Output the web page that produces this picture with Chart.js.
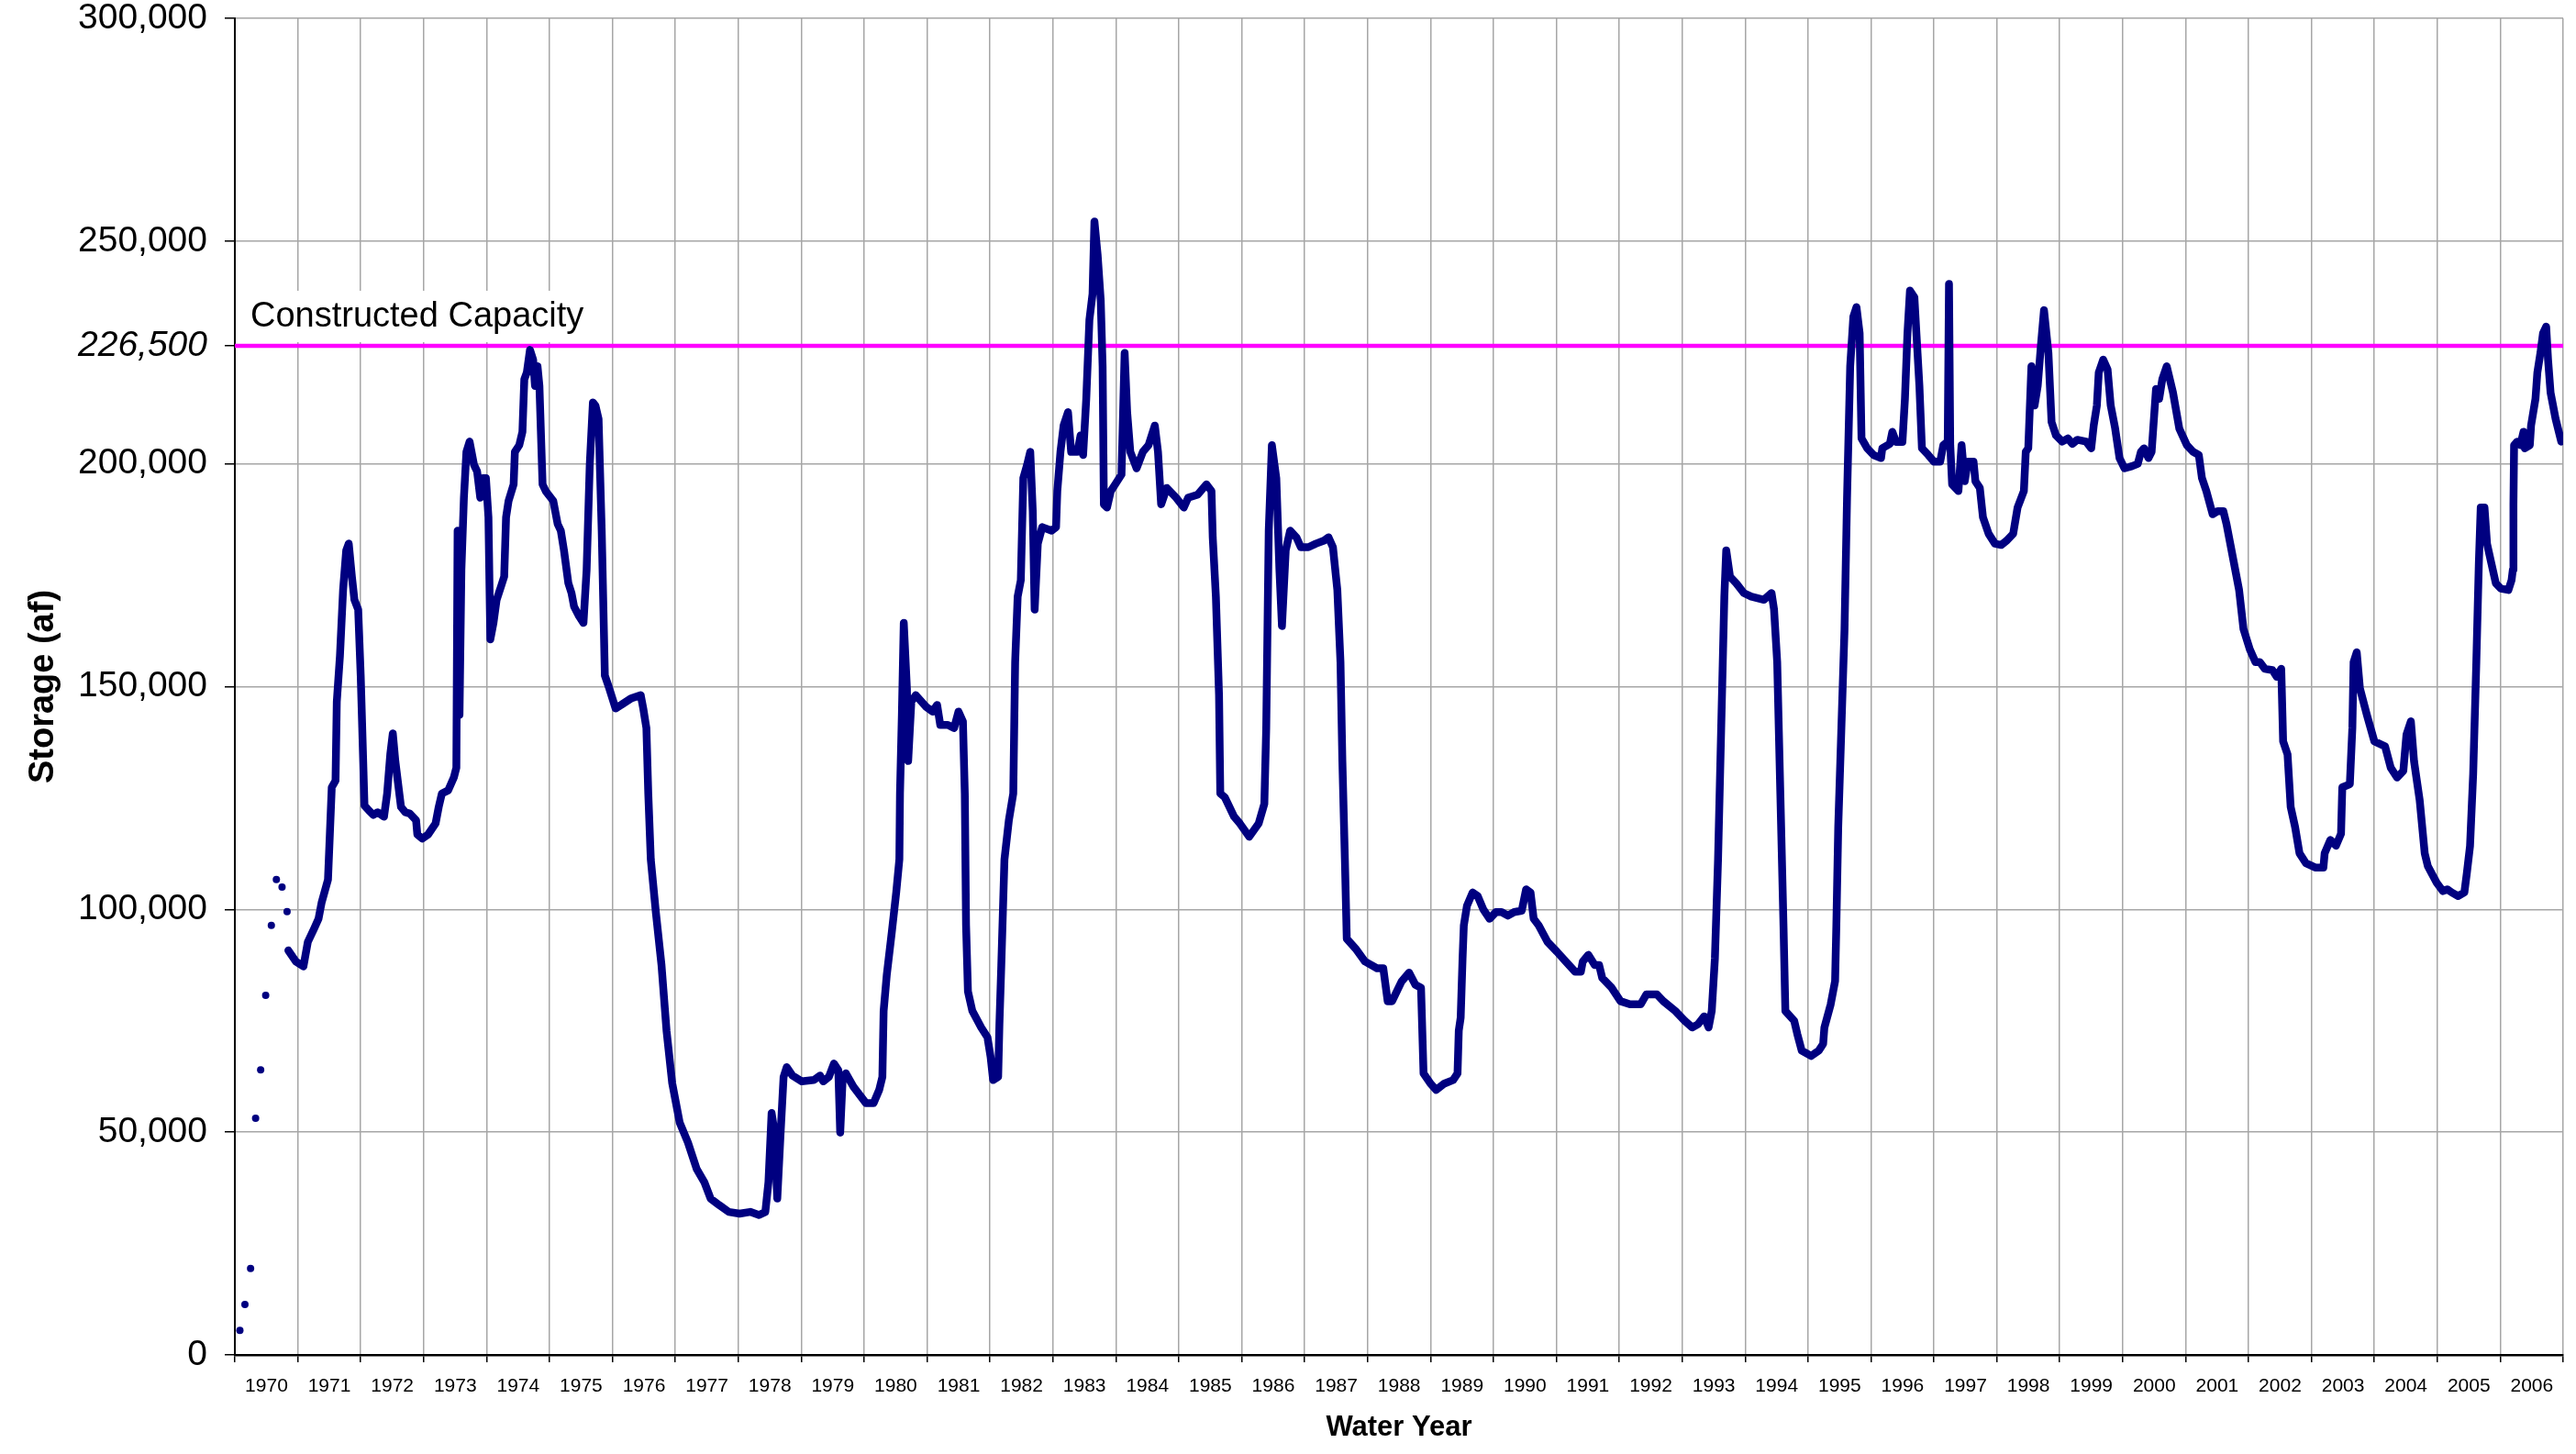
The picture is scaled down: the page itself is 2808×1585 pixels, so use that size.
<!DOCTYPE html>
<html>
<head>
<meta charset="utf-8">
<title>Reservoir Storage by Water Year</title>
<script src="https://cdn.jsdelivr.net/npm/chart.js@4.4.1/dist/chart.umd.min.js"></script>
<style>
  html, body { margin: 0; padding: 0; background: #fff; }
  #wrap { width: 2808px; height: 1585px; }
</style>
</head>
<body>
<div id="wrap"><canvas id="storageChart"></canvas></div>
<script>
// water years shown on the x axis (each label sits inside its year)
const waterYears = [1970, 1971, 1972, 1973, 1974, 1975, 1976, 1977, 1978, 1979,
                    1980, 1981, 1982, 1983, 1984, 1985, 1986, 1987, 1988, 1989,
                    1990, 1991, 1992, 1993, 1994, 1995, 1996, 1997, 1998, 1999,
                    2000, 2001, 2002, 2003, 2004, 2005, 2006];

const yTicks = [0, 50000, 100000, 150000, 200000, 226500, 250000, 300000];
const capacity = 226500;
const capacityLabel = 'Constructed Capacity';

// first fill, monthly readings (drawn as dots only)
const firstFillDots = [
  [1970.08, 5500], [1970.16, 11300], [1970.25, 19400], [1970.33, 53100], [1970.41, 64000],
  [1970.49, 80700], [1970.58, 96400], [1970.66, 106700], [1970.75, 105000], [1970.83, 99500]
];

// storage (af), [water year, storage]
const storage1970s = [
  [1970.85, 90800], [1970.97, 88300], [1971.09, 87200], [1971.16, 92700], [1971.26, 95700],
  [1971.33, 97900], [1971.38, 101600], [1971.48, 106700], [1971.51, 117000], [1971.54, 127400],
  [1971.60, 128900], [1971.62, 146600], [1971.67, 156900], [1971.72, 171700], [1971.77, 180600],
  [1971.81, 182100], [1971.86, 174700], [1971.90, 169500], [1971.96, 167300], [1972.00, 152500],
  [1972.06, 123300], [1972.13, 122200], [1972.20, 121200], [1972.27, 121800], [1972.37, 120800],
  [1972.42, 126000], [1972.47, 134800], [1972.51, 139500], [1972.55, 133300], [1972.64, 123000],
  [1972.71, 121800], [1972.78, 121500], [1972.88, 120000], [1972.90, 116800], [1972.98, 115900],
  [1973.07, 116800], [1973.19, 119300], [1973.24, 123000], [1973.29, 126000], [1973.39, 126700],
  [1973.48, 129600], [1973.52, 131800], [1973.54, 185000], [1973.57, 143700], [1973.60, 176200],
  [1973.64, 192400], [1973.68, 202700], [1973.73, 205000], [1973.80, 199800], [1973.85, 198300],
  [1973.90, 192400], [1973.94, 196800], [1973.99, 196800], [1974.03, 188000], [1974.06, 160600],
  [1974.11, 164300], [1974.16, 169500], [1974.23, 172500], [1974.28, 174700], [1974.31, 188000],
  [1974.35, 191700], [1974.43, 195400], [1974.45, 202700], [1974.52, 204200], [1974.57, 207200],
  [1974.60, 219000], [1974.64, 220500], [1974.69, 225600], [1974.74, 223400], [1974.77, 217500],
  [1974.81, 221900], [1974.84, 217500], [1974.89, 195400], [1974.94, 193900], [1975.06, 191700],
  [1975.13, 186500], [1975.18, 185000], [1975.23, 180600], [1975.30, 173200], [1975.35, 171000],
  [1975.39, 168000], [1975.47, 165800], [1975.54, 164300], [1975.59, 176200], [1975.64, 199800],
  [1975.69, 213800], [1975.73, 213100], [1975.78, 210100], [1975.83, 185000], [1975.88, 152500],
  [1975.95, 149600], [1976.05, 145100], [1976.14, 145900], [1976.29, 147300], [1976.45, 148100],
  [1976.49, 145100], [1976.54, 140700], [1976.57, 126000], [1976.61, 111200], [1976.69, 99400],
  [1976.78, 87500], [1976.86, 72800], [1976.95, 61000], [1977.07, 52100], [1977.20, 47700],
  [1977.34, 41700], [1977.46, 38800], [1977.56, 35100], [1977.70, 33600], [1977.85, 32100],
  [1978.02, 31700], [1978.19, 32100], [1978.33, 31400], [1978.43, 32100], [1978.48, 38800],
  [1978.53, 54300], [1978.57, 50600], [1978.62, 35100], [1978.67, 49100], [1978.72, 62400],
  [1978.77, 64600], [1978.86, 62700], [1979.01, 61400], [1979.20, 61700], [1979.30, 62700],
  [1979.35, 61400], [1979.44, 62400], [1979.52, 65400], [1979.59, 63900], [1979.62, 49900],
  [1979.66, 62400], [1979.71, 63200], [1979.83, 60200]
];

const storage1980s = [
  [1980.03, 56500], [1980.15, 56500], [1980.24, 59500], [1980.29, 62400], [1980.31, 77200],
  [1980.36, 85300], [1980.44, 94900], [1980.51, 103800], [1980.56, 111200], [1980.57, 126000],
  [1980.60, 143700], [1980.63, 164300], [1980.68, 149600], [1980.70, 133300], [1980.75, 146600],
  [1980.82, 148100], [1980.99, 145400], [1981.09, 144400], [1981.16, 145900], [1981.21, 141400],
  [1981.33, 141400], [1981.43, 140700], [1981.50, 144400], [1981.57, 142200], [1981.60, 126000],
  [1981.62, 96400], [1981.65, 81600], [1981.72, 77200], [1981.86, 73500], [1981.96, 71300],
  [1982.01, 66900], [1982.05, 61700], [1982.13, 62400], [1982.15, 74200], [1982.18, 87500],
  [1982.23, 111200], [1982.30, 120000], [1982.37, 126000], [1982.40, 155500], [1982.44, 170200],
  [1982.49, 173900], [1982.53, 196800], [1982.59, 199800], [1982.64, 202700], [1982.68, 189400],
  [1982.71, 167300], [1982.76, 182100], [1982.83, 185800], [1982.98, 185000], [1983.05, 185800],
  [1983.07, 193900], [1983.12, 202700], [1983.17, 208600], [1983.24, 211600], [1983.29, 202700],
  [1983.39, 202700], [1983.44, 206400], [1983.48, 202000], [1983.53, 214600], [1983.58, 232300],
  [1983.63, 238200], [1983.66, 254400], [1983.71, 247000], [1983.76, 236700], [1983.79, 221900],
  [1983.81, 190900], [1983.86, 190200], [1983.92, 193900], [1983.99, 195400], [1984.09, 197600],
  [1984.14, 224900], [1984.18, 211600], [1984.23, 202700], [1984.33, 199000], [1984.43, 202700],
  [1984.52, 204200], [1984.62, 208600], [1984.67, 202700], [1984.72, 190900], [1984.81, 194600],
  [1984.96, 192400], [1985.08, 190200], [1985.15, 192400], [1985.30, 193100], [1985.44, 195400],
  [1985.52, 193900], [1985.54, 183500], [1985.59, 170200], [1985.64, 148100], [1985.66, 126000],
  [1985.73, 125200], [1985.88, 120800], [1985.97, 119300], [1986.12, 116300], [1986.27, 119300],
  [1986.36, 123700], [1986.39, 140700], [1986.43, 185000], [1986.48, 204200], [1986.55, 196800],
  [1986.60, 176200], [1986.64, 163600], [1986.70, 180600], [1986.77, 185000], [1986.87, 183500],
  [1986.94, 181300], [1987.06, 181300], [1987.18, 182100], [1987.31, 182800], [1987.38, 183500],
  [1987.45, 181300], [1987.52, 171700], [1987.57, 155500], [1987.60, 133300], [1987.64, 111200],
  [1987.67, 93400], [1987.81, 91200], [1987.96, 88300], [1988.15, 86800], [1988.25, 86800],
  [1988.32, 79400], [1988.39, 79400], [1988.54, 83800], [1988.66, 85800], [1988.76, 83100],
  [1988.85, 82400], [1988.89, 63200], [1989.00, 60900], [1989.09, 59500], [1989.22, 60900],
  [1989.36, 61700], [1989.43, 63200], [1989.45, 72800], [1989.48, 75700], [1989.51, 89000],
  [1989.53, 96400], [1989.58, 100800], [1989.67, 103800], [1989.75, 103000], [1989.84, 100000],
  [1989.94, 97900]
];

const storage1990s = [
  [1990.04, 99400], [1990.13, 99400], [1990.23, 98600], [1990.33, 99400], [1990.45, 99700],
  [1990.52, 104500], [1990.59, 103800], [1990.64, 97900], [1990.72, 96400], [1990.86, 92700],
  [1991.01, 90500], [1991.15, 88300], [1991.30, 86000], [1991.39, 86000], [1991.42, 88300],
  [1991.51, 89800], [1991.61, 87500], [1991.68, 87500], [1991.73, 84600], [1991.88, 82400],
  [1992.02, 79400], [1992.17, 78700], [1992.34, 78700], [1992.43, 80900], [1992.60, 80900],
  [1992.70, 79400], [1992.89, 77200], [1993.04, 75000], [1993.16, 73500], [1993.25, 74200],
  [1993.35, 76000], [1993.42, 73500], [1993.47, 77200], [1993.52, 89000], [1993.57, 111200],
  [1993.62, 140700], [1993.67, 170200], [1993.70, 180600], [1993.76, 174700], [1993.86, 173200],
  [1993.98, 171000], [1994.10, 170200], [1994.30, 169500], [1994.42, 171000], [1994.46, 167300],
  [1994.51, 155500], [1994.56, 126000], [1994.61, 96400], [1994.64, 77200], [1994.78, 75000],
  [1994.83, 72000], [1994.90, 68300], [1995.05, 67100], [1995.17, 68300], [1995.24, 69800],
  [1995.26, 73500], [1995.36, 78700], [1995.43, 83900], [1995.45, 96400], [1995.48, 118500],
  [1995.53, 140700], [1995.58, 162900], [1995.62, 192400], [1995.67, 221900], [1995.72, 233000],
  [1995.77, 235200], [1995.82, 229300], [1995.85, 205700], [1995.94, 203500], [1996.04, 202000],
  [1996.16, 201300], [1996.18, 203500], [1996.30, 204500], [1996.34, 207200], [1996.40, 204900],
  [1996.50, 204900], [1996.54, 214600], [1996.58, 229300], [1996.62, 238900], [1996.69, 237400],
  [1996.74, 224900], [1996.77, 217500], [1996.81, 203500], [1996.91, 202000], [1997.00, 200500],
  [1997.10, 200500], [1997.15, 204200], [1997.22, 205000], [1997.24, 240400], [1997.26, 204200],
  [1997.29, 195400], [1997.39, 193900], [1997.44, 204200], [1997.49, 196100], [1997.54, 200500],
  [1997.63, 200500], [1997.66, 196100], [1997.73, 194600], [1997.78, 188000], [1997.87, 184300],
  [1997.97, 182100], [1998.07, 181800], [1998.16, 182800], [1998.26, 184300], [1998.33, 190200],
  [1998.43, 193900], [1998.46, 202700], [1998.50, 203500], [1998.55, 221900], [1998.60, 213100],
  [1998.65, 217500], [1998.70, 226400], [1998.75, 234500], [1998.82, 224900], [1998.87, 209400],
  [1998.94, 206400], [1999.04, 205000], [1999.13, 205700], [1999.20, 204500], [1999.28, 205400],
  [1999.42, 205000], [1999.50, 203500], [1999.54, 208600], [1999.59, 213100], [1999.62, 220500],
  [1999.69, 223400], [1999.76, 221200], [1999.81, 213100], [1999.88, 208000], [1999.95, 201300]
];

const storage2000s = [
  [2000.03, 199000], [2000.15, 199500], [2000.24, 200000], [2000.29, 202700], [2000.34, 203500],
  [2000.41, 201300], [2000.46, 202700], [2000.53, 216800], [2000.58, 214600], [2000.63, 219000],
  [2000.70, 221900], [2000.80, 216000], [2000.90, 207900], [2001.02, 204200], [2001.12, 202700],
  [2001.21, 202000], [2001.26, 196800], [2001.33, 193900], [2001.43, 188700], [2001.51, 189400],
  [2001.60, 189400], [2001.65, 186500], [2001.75, 179100], [2001.85, 171700], [2001.92, 162900],
  [2002.02, 158400], [2002.11, 155500], [2002.18, 155500], [2002.26, 154000], [2002.38, 153700],
  [2002.45, 152200], [2002.52, 154000], [2002.55, 137700], [2002.62, 134800], [2002.67, 123000],
  [2002.74, 118500], [2002.81, 112600], [2002.91, 110400], [2003.06, 109400], [2003.19, 109400],
  [2003.21, 112600], [2003.30, 115600], [2003.39, 114300], [2003.47, 117000], [2003.49, 127400],
  [2003.61, 128100], [2003.65, 140700], [2003.67, 155500], [2003.72, 157700], [2003.77, 149600],
  [2003.88, 143700], [2004.00, 137700], [2004.17, 136600], [2004.26, 131800], [2004.36, 129600],
  [2004.46, 131100], [2004.51, 139200], [2004.58, 142200], [2004.63, 133300], [2004.72, 124500],
  [2004.80, 112600], [2004.85, 109700], [2004.99, 106000], [2005.09, 104100], [2005.16, 104500],
  [2005.23, 103800], [2005.33, 103000], [2005.43, 103800], [2005.47, 108200], [2005.52, 114200],
  [2005.57, 130400], [2005.62, 155500], [2005.66, 177600], [2005.69, 190200], [2005.75, 190200],
  [2005.79, 182100], [2005.86, 177600], [2005.93, 173200], [2006.01, 172000], [2006.13, 171700],
  [2006.18, 173900], [2006.20, 176200], [2006.21, 191000], [2006.22, 204200], [2006.27, 205000],
  [2006.32, 204200], [2006.37, 207200], [2006.39, 203500], [2006.47, 204200], [2006.49, 208600],
  [2006.56, 214600], [2006.59, 220500], [2006.64, 225000], [2006.68, 229300], [2006.73, 230800],
  [2006.76, 223400], [2006.80, 216000], [2006.88, 210100], [2006.97, 205000]
];

const fontFamily = '"Liberation Sans", Arial, Helvetica, sans-serif';
const firstYear = waterYears[0];
const endYear = waterYears[waterYears.length - 1] + 1;

const toPoints = pairs => pairs.map(p => ({ x: p[0], y: p[1] }));

// white box + text for the capacity label, drawn over the grid but under the lines
const capacityLabelPlugin = {
  id: 'capacityLabel',
  beforeDatasetsDraw(chart) {
    const ctx = chart.ctx;
    const x = chart.scales.x.getPixelForValue(firstYear);
    const y = chart.scales.y.getPixelForValue(capacity);
    ctx.save();
    ctx.font = '38px ' + fontFamily;
    const w = ctx.measureText(capacityLabel).width;
    ctx.fillStyle = '#ffffff';
    ctx.fillRect(x + 6, y - 60, w + 22, 56);
    ctx.fillStyle = '#000000';
    ctx.textBaseline = 'alphabetic';
    ctx.fillText(capacityLabel, x + 17, y - 21);
    ctx.restore();
  }
};

const ctx = document.getElementById('storageChart').getContext('2d');
new Chart(ctx, {
  type: 'line',
  data: {
    datasets: [
      {
        label: 'Storage',
        data: toPoints(storage1970s.concat(storage1980s, storage1990s, storage2000s)),
        borderColor: '#000080',
        borderWidth: 8.5,
        borderJoinStyle: 'round',
        borderCapStyle: 'round',
        pointRadius: 0,
        tension: 0
      },
      {
        label: capacityLabel,
        data: toPoints([[firstYear, capacity], [endYear, capacity]]),
        borderColor: '#ff00ff',
        borderWidth: 4.5,
        pointRadius: 0
      },
      {
        label: 'First fill',
        data: toPoints(firstFillDots),
        showLine: false,
        pointRadius: 4,
        pointBackgroundColor: '#000080',
        pointBorderWidth: 0
      }
    ]
  },
  options: {
    responsive: true,
    maintainAspectRatio: false,
    animation: false,
    devicePixelRatio: 1,
    layout: { padding: { left: 0, right: 3, top: 20, bottom: 0 } },
    plugins: {
      legend: { display: false },
      tooltip: { enabled: false }
    },
    scales: {
      x: {
        type: 'linear',
        min: firstYear,
        max: endYear,
        afterBuildTicks: s => {
          s.ticks = waterYears.concat([endYear]).map(v => ({ value: v }));
        },
        afterFit: s => { s.height = 108; },
        ticks: {
          autoSkip: false,
          maxRotation: 0,
          minRotation: 0,
          labelOffset: 34.45,
          padding: 14,
          color: '#000',
          font: { family: fontFamily, size: 21 },
          callback: v => (waterYears.includes(v) ? String(v) : '')
        },
        grid: { color: '#a6a6a6', lineWidth: 1.5, tickLength: 8, tickColor: '#000' },
        border: { color: '#000', width: 2.5 },
        title: {
          display: true,
          text: 'Water Year',
          color: '#000',
          font: { family: fontFamily, size: 31, weight: 'bold' },
          padding: { top: 0, bottom: 10 }
        }
      },
      y: {
        type: 'linear',
        min: 0,
        max: 300000,
        afterBuildTicks: s => { s.ticks = yTicks.map(v => ({ value: v })); },
        afterFit: s => {
          s.width = 256;
          s.paddingTop = 10;
          s.paddingBottom = 10;
        },
        ticks: {
          padding: 19,
          color: '#000',
          font: c => ({
            family: fontFamily,
            size: 39,
            lineHeight: 1,
            style: c.tick && c.tick.value === capacity ? 'italic' : 'normal'
          }),
          callback: v => v.toLocaleString('en-US')
        },
        grid: {
          color: c => (c.tick && c.tick.value === capacity ? 'rgba(0,0,0,0)' : '#a6a6a6'),
          lineWidth: 1.5,
          tickLength: 11,
          tickColor: '#000'
        },
        border: { color: '#000', width: 2 },
        title: {
          display: true,
          text: 'Storage (af)',
          color: '#000',
          font: { family: fontFamily, size: 38, weight: 'bold' },
          padding: { top: 25, bottom: 0 }
        }
      }
    }
  },
  plugins: [capacityLabelPlugin]
});
</script>
</body>
</html>
